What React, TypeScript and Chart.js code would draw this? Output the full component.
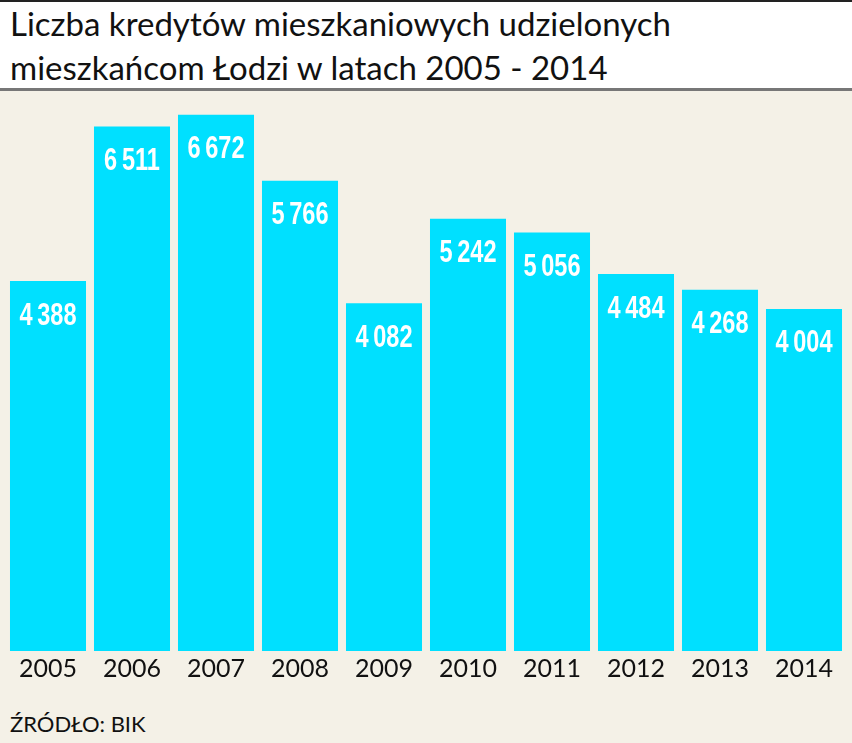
import React, { useEffect, useRef } from "react";
import { Chart, registerables } from "chart.js";

Chart.register(...registerables);

const titleLines = ["Liczba kredytów mieszkaniowych udzielonych", "mieszkańcom Łodzi w latach 2005 - 2014"];
const years = ["2005", "2006", "2007", "2008", "2009", "2010", "2011", "2012", "2013", "2014"];
const credits = [4388, 6511, 6672, 5766, 4082, 5242, 5056, 4484, 4268, 4004];
const sourceText = "ŹRÓDŁO: BIK";

const BAR = "#00e0ff";
const BEIGE = "#f4f1e7";

function fmt(v: number): string {
  const s = String(v);
  return s.length > 3 ? s.slice(0, s.length - 3) + "\u2009" + s.slice(s.length - 3) : s;
}

const valueLabels = {
  id: "valueLabels",
  afterDatasetsDraw(chart: any) {
    const ctx = chart.ctx;
    const meta = chart.getDatasetMeta(0);
    ctx.save();
    ctx.fillStyle = "#ffffff";
    ctx.font = "bold 31px 'Liberation Sans', Arial, sans-serif";
    ctx.textAlign = "center";
    ctx.textBaseline = "middle";
    meta.data.forEach((bar: any, i: number) => {
      const v = chart.data.datasets[0].data[i];
      ctx.save();
      ctx.translate(bar.x, bar.y + 35);
      ctx.scale(0.76, 1);
      ctx.fillText(fmt(v), 0, 0);
      ctx.restore();
    });
    ctx.restore();
  },
};

export default function App() {
  const ref = useRef<HTMLCanvasElement>(null);
  useEffect(() => {
    document.body.style.margin = "0";
    const chart = new Chart(ref.current!, {
      type: "bar",
      data: {
        labels: years,
        datasets: [
          {
            data: credits,
            backgroundColor: BAR,
            borderWidth: 0,
            base: -700,
            categoryPercentage: 1,
            barPercentage: 0.905,
          } as any,
        ],
      },
      options: {
        animation: false,
        responsive: true,
        maintainAspectRatio: false,
        layout: { padding: { left: 6, right: 6, top: 0, bottom: 0 } },
        plugins: { legend: { display: false }, tooltip: { enabled: false }, title: { display: false } },
        scales: {
          x: {
            grid: { display: false, drawTicks: false },
            border: { display: false },
            ticks: {
              color: "#111",
              padding: 3,
              font: { family: "Lato, 'Open Sans', sans-serif", size: 25 },
              maxRotation: 0,
            },
          },
          y: { display: false, min: -700, max: 7000 },
        },
      },
      plugins: [valueLabels],
    });
    return () => chart.destroy();
  }, []);

  return (
    <div style={{ position: "relative", width: 852, height: 743, background: BEIGE, overflow: "hidden", fontFamily: "Lato, 'Open Sans', sans-serif" }}>
      <div style={{ position: "absolute", left: 0, top: 0, width: 852, height: 2, background: "#222" }} />
      <div style={{ position: "absolute", left: 0, top: 2, width: 852, height: 86, background: "#fff" }} />
      <div style={{ position: "absolute", left: 0, top: 88, width: 852, height: 3, background: "#777" }} />
      <div style={{ position: "absolute", left: 10, top: 1, fontSize: 33, lineHeight: "44px", color: "#111", whiteSpace: "nowrap" }}>
        {titleLines.map((t) => (
          <div key={t}>{t}</div>
        ))}
      </div>
      <div style={{ position: "absolute", left: 0, top: 91, width: 852, height: 596 }}>
        <canvas ref={ref} />
      </div>
      <div style={{ position: "absolute", left: 10, top: 713, fontSize: 22, lineHeight: "22px", color: "#111" }}>{sourceText}</div>
    </div>
  );
}
